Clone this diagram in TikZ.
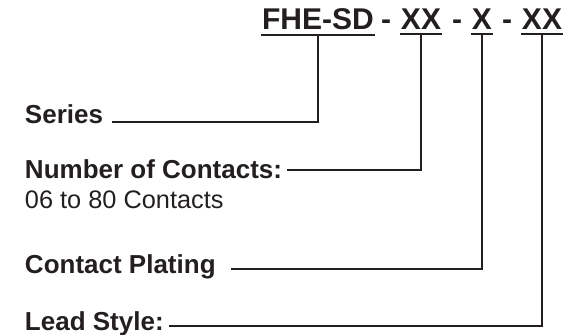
\documentclass[tikz,border=0pt]{standalone}
\usepackage{fontspec}
\setmainfont{Liberation Sans}
\definecolor{ink}{HTML}{231F20}
\begin{document}
\begin{tikzpicture}[x=0.75pt,y=-0.75pt, line width=1.5pt, ink,
  code/.style={font=\fontsize{22.5}{27}\selectfont\bfseries, inner xsep=0pt, inner ysep=3pt, anchor=base},
  lbl/.style={font=\fontsize{19.5}{23}\selectfont\bfseries, inner sep=0pt, anchor=base west}]
\useasboundingbox (0,0) rectangle (579,335);

% part number
\node[code] (ser) at (318,29.5){FHE-SD};
\node[code] (d1) at (386,29.5){-};
\node[code] (cnt) at (421,29.5){XX};
\node[code] (d2) at (457,29.5){-};
\node[code] (plt) at (482,29.5){X};
\node[code] (d3) at (507,29.5){-};
\node[code] (lead) at (542,29.5){XX};

\foreach \n in {ser,cnt,plt,lead}
  \draw (\n.south west) -- (\n.south east);

% labels
\node[lbl] (series) at (24,124){Series};
\node[lbl] (number) at (24,179){Number of Contacts:};
\node[lbl, font=\fontsize{19}{23}\selectfont] (range) at (24,209){06 to 80 Contacts};
\node[lbl] (plating) at (24,273){Contact Plating};
\node[lbl] (style) at (24,330){Lead Style:};

\draw ([xshift=6pt,yshift=-1pt]series.mid east) -| (ser.south);
\draw ([xshift=3pt,yshift=4pt]number.mid east) -| (cnt.south);
\draw ([xshift=11pt]plating.mid east) -| (plt.south);
\draw ([xshift=3pt]style.mid east) -| (lead.south);
\end{tikzpicture}
\end{document}
